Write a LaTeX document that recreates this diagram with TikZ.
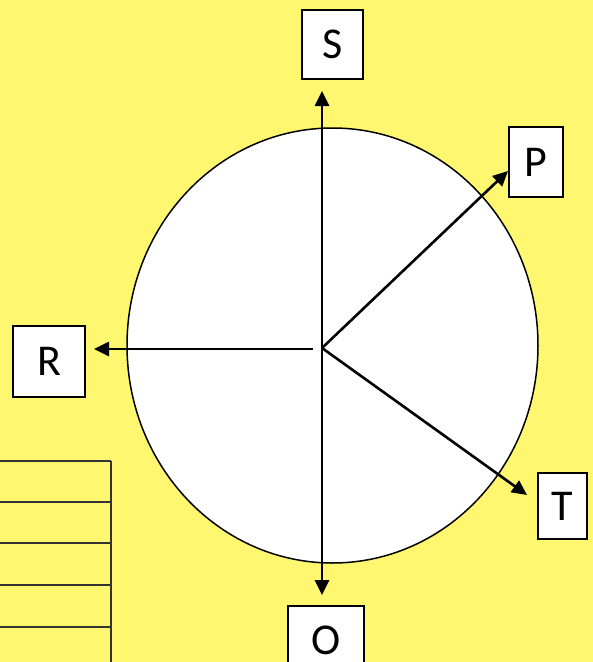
\documentclass[tikz,border=0pt]{standalone}
\usepackage{fontspec}
\setmainfont{Carlito}
\usetikzlibrary{arrows.meta}
\definecolor{bgyellow}{RGB}{255,247,112}
\definecolor{gridgray}{RGB}{51,51,51}

\begin{document}
\begin{tikzpicture}[x=1pt, y=-1pt,
    box/.style={draw, fill=white, line width=1.5pt, inner sep=0pt, font=\fontsize{44}{48}\selectfont},
    arr/.style={-{Triangle[length=15pt,width=14pt]}, line width=2.6pt}]
        % background
        \fill[bgyellow] (0,0) rectangle (593,662);
        \useasboundingbox (0,0) rectangle (593,662);
        \clip (0,0) rectangle (593,662);

        % table rows
        \foreach \y in {461,502,543,585,627} {
            \draw[gridgray, line width=1.5pt] (-5,\y) -- (111,\y);
        }
        \draw[gridgray, line width=1.5pt] (111,461) -- (111,670);

        % wheel
        \draw[fill=white, line width=1.5pt] (332.5,345.5) ellipse (205.5pt and 217.5pt);

        % boxes
        \node[box, minimum width=61pt, minimum height=69pt] (S) at (332.5,44.5) {S};
        \node[box, minimum width=54pt, minimum height=70pt] (P) at (536,162) {P};
        \node[box, minimum width=72pt, minimum height=71pt] (R) at (49,361.5) {R};
        \node[box, minimum width=49pt, minimum height=66pt] (T) at (562.5,506) {T};
        \node[box, minimum width=76pt, minimum height=69pt] (O) at (326,640.5) {O};

        % hub and arrow tips
        \coordinate (hub) at (322,348);
        \coordinate (hubL) at (313,349);
        \coordinate (tipS) at (322,91);
        \coordinate (tipP) at (508,171);
        \coordinate (tipR) at (94,349);
        \coordinate (tipT) at (527,495);
        \coordinate (tipO) at (322,595);

        % arrows
        \draw[arr] (hub) -- (tipS);
        \draw[arr] (hub) -- (tipO);
        \draw[arr] (hub) -- (tipP);
        \draw[arr] (hub) -- (tipT);
        \draw[arr] (hubL) -- (tipR);
\end{tikzpicture}
\end{document}
